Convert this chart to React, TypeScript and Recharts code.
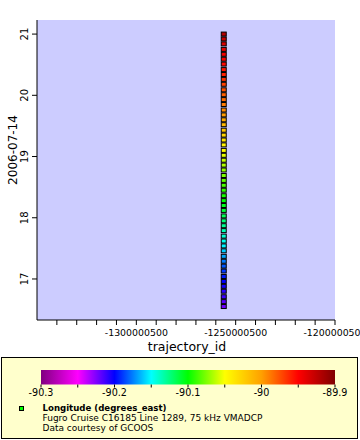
import React from 'react';
import { ScatterChart, Scatter, XAxis, YAxis, CartesianGrid, Label } from 'recharts';

const FONT = '"DejaVu Sans", Verdana, sans-serif';

// trajectory id of the single VMADCP track
const trajectoryIds = [-1256000500];

// hour of 2006-07-14, top to bottom
const hours = [
  21.0, 20.92, 20.84, 20.75, 20.67, 20.59, 20.51, 20.42, 20.34, 20.26, 20.18,
  20.09, 20.01, 19.93, 19.85, 19.76, 19.68, 19.6, 19.52, 19.43, 19.35, 19.27,
  19.19, 19.1, 19.02, 18.94, 18.86, 18.78, 18.69, 18.61, 18.53, 18.45, 18.36,
  18.28, 18.2, 18.12, 18.03, 17.95, 17.87, 17.79, 17.7, 17.62, 17.54, 17.46,
  17.37, 17.29, 17.21, 17.13, 17.04, 16.96, 16.88, 16.8, 16.71, 16.63, 16.55,
];

// longitude (degrees_east), same order as hours
const longitudes = [
  -89.92, -89.928, -89.935, -89.94, -89.945, -89.949, -89.952, -89.956, -89.96,
  -89.965, -89.97, -89.975, -89.979, -89.983, -89.988, -89.993, -89.998,
  -90.005, -90.012, -90.02, -90.028, -90.036, -90.043, -90.049, -90.055,
  -90.061, -90.066, -90.071, -90.076, -90.081, -90.086, -90.091, -90.096,
  -90.101, -90.106, -90.111, -90.117, -90.123, -90.129, -90.135, -90.141,
  -90.146, -90.152, -90.16, -90.168, -90.176, -90.183, -90.189, -90.195,
  -90.2, -90.204, -90.208, -90.212, -90.217, -90.222,
];

const xDomain = [-1350000500, -1200000500];
const xTicks = [
  -1340000500, -1330000500, -1320000500, -1310000500, -1300000500,
  -1290000500, -1280000500, -1270000500, -1260000500, -1250000500,
  -1240000500, -1230000500, -1220000500, -1210000500, -1200000500,
];
const xMajorTicks = [-1300000500, -1250000500, -1200000500];
const yDomain = [16.33, 21.23];
const yTicks = [17, 18, 19, 20, 21];

const paletteValues = [-90.3, -90.25, -90.2, -90.15, -90.1, -90.05, -90.0, -89.95, -89.9];
const paletteColors = ['#800080', '#ff00ff', '#0000ff', '#00ffff', '#00ff00', '#ffff00', '#ffa000', '#ff0000', '#800000'];
const colorbarTicks = [-90.3, -90.25, -90.2, -90.15, -90.1, -90.05, -90.0, -89.95, -89.9];
const colorbarLabels = ['-90.3', '-90.2', '-90.1', '-90', '-89.9'];
const colorbarLabelValues = [-90.3, -90.2, -90.1, -90.0, -89.9];

const legendTitle = 'Longitude (degrees_east)';
const legendLines = ['Fugro Cruise C16185 Line 1289, 75 kHz VMADCP', 'Data courtesy of GCOOS'];
const xLabel = 'trajectory_id';
const yLabel = '2006-07-14';

function hexToRgb(h: string) {
  const n = parseInt(h.slice(1), 16);
  return [(n >> 16) & 255, (n >> 8) & 255, n & 255];
}

function colorFor(v: number) {
  const vs = paletteValues;
  if (v <= vs[0]) return paletteColors[0];
  if (v >= vs[vs.length - 1]) return paletteColors[vs.length - 1];
  for (let i = 0; i < vs.length - 1; i++) {
    if (v >= vs[i] && v <= vs[i + 1]) {
      const t = (v - vs[i]) / (vs[i + 1] - vs[i]);
      const a = hexToRgb(paletteColors[i]);
      const b = hexToRgb(paletteColors[i + 1]);
      const c = a.map((x, k) => Math.round(x + (b[k] - x) * t));
      return `rgb(${c[0]},${c[1]},${c[2]})`;
    }
  }
  return '#000';
}

const data = hours.map((h, i) => ({ x: trajectoryIds[0], y: h, lon: longitudes[i] }));

const XTick = (props: any) => {
  const { x, y, payload } = props;
  const major = xMajorTicks.includes(payload.value);
  return (
    <g>
      <line x1={x} x2={x} y1={y} y2={y + 5} stroke="#000" strokeWidth={1} />
      {major && (
        <text x={x} y={y + 16.2} textAnchor="middle" fontSize={9.4} fontFamily={FONT} fill="#000">
          {String(payload.value)}
        </text>
      )}
    </g>
  );
};

const YTick = (props: any) => {
  const { x, y, payload } = props;
  return (
    <g>
      <line x1={x - 5} x2={x} y1={y} y2={y} stroke="#000" strokeWidth={1} />
      <text
        x={x - 9}
        y={y}
        transform={`rotate(-90 ${x - 9} ${y})`}
        textAnchor="middle"
        fontSize={10}
        fontFamily={FONT}
        fill="#000"
      >
        {String(payload.value)}
      </text>
    </g>
  );
};

const Square = (props: any) => {
  const { cx, cy, payload } = props;
  return (
    <rect x={cx - 2.5} y={cy - 2} width={5} height={4} fill={colorFor(payload.lon)} stroke="#000" strokeWidth={1} />
  );
};

const CB_X0 = 41;
const CB_X1 = 335;
const cbX = (v: number) => CB_X0 + ((v - paletteValues[0]) / (paletteValues[paletteValues.length - 1] - paletteValues[0])) * (CB_X1 - CB_X0);

export default function App() {
  return (
    <div style={{ position: 'absolute', left: 0, top: 0, width: 360, height: 440, background: '#fff' }}>
      <ScatterChart width={360} height={356} margin={{ top: 20, right: 25, bottom: 0, left: 0 }}>
        <CartesianGrid horizontal={false} vertical={false} fill="#ccccff" fillOpacity={1} />
        <XAxis
          dataKey="x"
          type="number"
          domain={xDomain}
          ticks={xTicks}
          interval={0}
          allowDataOverflow
          height={36}
          tickSize={0}
          tickMargin={0}
          tickLine={false}
          tick={<XTick />}
          axisLine={{ stroke: '#000' }}
        >
          <Label
            content={() => (
              <text x={187} y={350.5} textAnchor="middle" fontSize={12.5} fontFamily={FONT} fill="#000">
                {xLabel}
              </text>
            )}
          />
        </XAxis>
        <XAxis xAxisId="top" orientation="top" type="number" domain={xDomain} allowDataOverflow height={0} tick={false} tickLine={false} axisLine={{ stroke: '#000' }} />
        <YAxis
          dataKey="y"
          type="number"
          domain={yDomain}
          ticks={yTicks}
          interval={0}
          allowDataOverflow
          width={37}
          tickSize={0}
          tickMargin={0}
          tickLine={false}
          tick={<YTick />}
          axisLine={{ stroke: '#000' }}
        >
          <Label
            content={() => (
              <text x={13} y={150} transform="rotate(-90 13 150)" textAnchor="middle" dominantBaseline="central" fontSize={12} fontFamily={FONT} fill="#000">
                {yLabel}
              </text>
            )}
          />
        </YAxis>
        <YAxis yAxisId="right" orientation="right" type="number" domain={yDomain} allowDataOverflow width={0} tick={false} tickLine={false} axisLine={{ stroke: '#000' }} />
        <Scatter data={data} shape={<Square />} isAnimationActive={false} />
      </ScatterChart>
      <svg width={360} height={84} style={{ display: 'block' }}>
        <defs>
          <linearGradient id="cb" x1="0" x2="1" y1="0" y2="0">
            {paletteColors.map((c, i) => (
              <stop key={i} offset={i / (paletteColors.length - 1)} stopColor={c} />
            ))}
          </linearGradient>
        </defs>
        <rect x={1.5} y={1.5} width={356} height={81} fill="#ffffcc" stroke="#000" strokeWidth={1} />
        <rect x={CB_X0} y={14} width={CB_X1 - CB_X0} height={14.5} fill="url(#cb)" />
        {colorbarTicks.map((v, i) => (
          <line key={i} x1={cbX(v)} x2={cbX(v)} y1={28.5} y2={31.5} stroke="#000" strokeWidth={1} />
        ))}
        {colorbarLabelValues.map((v, i) => (
          <text key={i} x={cbX(v)} y={40.3} textAnchor="middle" fontSize={9.6} fontFamily={FONT} fill="#000">
            {colorbarLabels[i]}
          </text>
        ))}
        <rect x={19.5} y={50.5} width={4} height={4} fill="#00ff00" stroke="#000" strokeWidth={1} />
        <text x={42.5} y={54.6} fontSize={8.6} fontWeight="bold" fontFamily={FONT} fill="#000">
          {legendTitle}
        </text>
        {legendLines.map((t, i) => (
          <text key={i} x={42.5} y={64.8 + i * 10.6} fontSize={9} fontFamily={FONT} fill="#000">
            {t}
          </text>
        ))}
      </svg>
    </div>
  );
}
